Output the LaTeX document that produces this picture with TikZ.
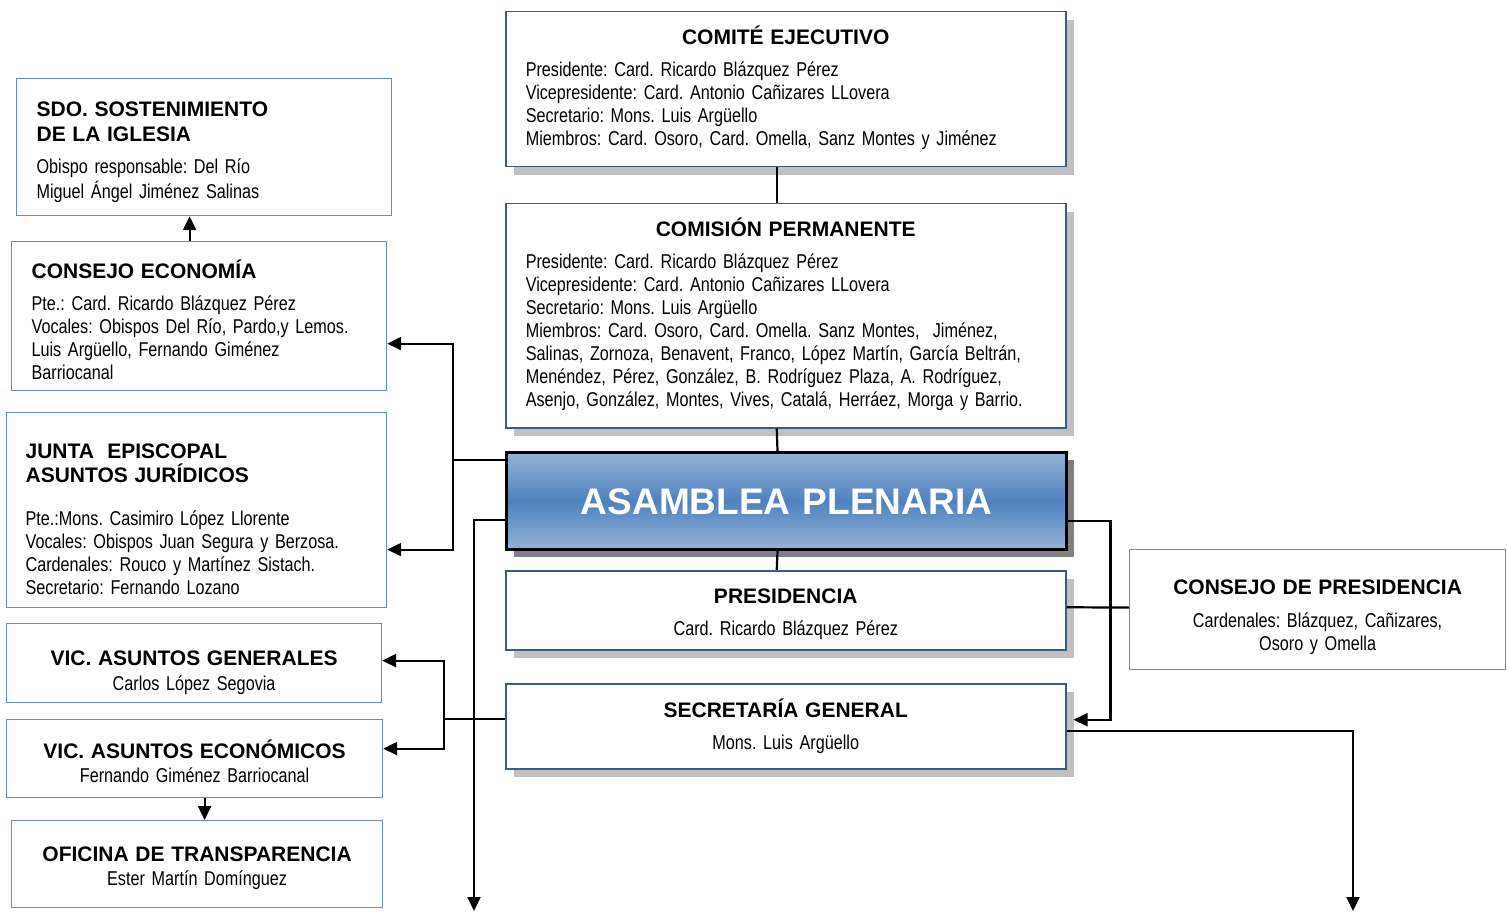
\documentclass[tikz,border=0pt]{standalone}
\usepackage{fontspec}
\setmainfont{Liberation Sans}
\newfontfamily\narrowfont[FakeStretch=0.81,WordSpace=0.7]{Liberation Sans}
\usetikzlibrary{arrows.meta,shadows}
\definecolor{boxblue}{RGB}{56,93,138}
\definecolor{sideblue}{RGB}{100,140,200}
\definecolor{shadowgrey}{RGB}{192,192,192}
\definecolor{darkshadow}{RGB}{128,128,128}
\definecolor{plenarylight}{RGB}{149,179,215}
\definecolor{plenarymid}{RGB}{79,129,189}
\newcommand\bodyfont{\narrowfont\fontsize{20}{23}\selectfont\frenchspacing}
\newcommand\headfont{\normalfont\bfseries\fontsize{21}{25}\selectfont}
\newcommand\boxhead[1]{\makebox[\linewidth]{\headfont #1}}

\begin{document}
\begin{tikzpicture}[x=1pt,y=-1pt,>={Triangle[length=14pt,width=13pt]},
    every node/.style={anchor=north west,inner xsep=20pt,inner ysep=0pt,font=\bodyfont},
    main box/.style={draw=boxblue,line width=1.5pt,fill=white,
      drop shadow={shadow xshift=8pt,shadow yshift=-8pt,fill=shadowgrey,opacity=1}},
    side box/.style={draw=sideblue,line width=1.2pt,fill=white},
    plenary box/.style={draw=black,line width=3pt,top color=plenarylight,
      bottom color=plenarylight,middle color=plenarymid,text=white,align=center,
      font=\normalfont\bfseries\fontsize{37}{40}\selectfont,
      drop shadow={shadow xshift=7pt,shadow yshift=-7pt,fill=darkshadow,opacity=1}},
    link/.style={draw,line width=2.2pt}]
  \useasboundingbox (0,0) rectangle (1507,912);

  \node[main box,align=left,text width=520pt,text height=32.5pt,text depth=122.5pt] (comite) at (505,11)
    {\boxhead{COMITÉ EJECUTIVO}\\[9pt]
     Presidente: Card. Ricardo Blázquez Pérez\\
     Vicepresidente: Card. Antonio Cañizares LLovera\\
     Secretario: Mons. Luis Argüello\\
     Miembros: Card. Osoro, Card. Omella, Sanz Montes y Jiménez};
  \node[main box,align=left,text width=520pt,text height=32.5pt,text depth=191.5pt] (comision) at (505,203)
    {\boxhead{COMISIÓN PERMANENTE}\\[9pt]
     Presidente: Card. Ricardo Blázquez Pérez\\
     Vicepresidente: Card. Antonio Cañizares LLovera\\
     Secretario: Mons. Luis Argüello\\
     Miembros: Card. Osoro, Card. Omella. Sanz Montes,~ Jiménez,\\
     Salinas, Zornoza, Benavent, Franco, López Martín, García Beltrán,\\
     Menéndez, Pérez, González, B. Rodríguez Plaza, A. Rodríguez,\\
     Asenjo, González, Montes, Vives, Catalá, Herráez, Morga y Barrio.};
  \node[plenary box,text width=520pt,text height=62pt,text depth=35pt] (plenaria) at (505,451)
    {ASAMBLEA PLENARIA};
  \node[main box,align=center,text width=520pt,text height=32.5pt,text depth=46.5pt] (presidencia) at (505,570)
    {{\headfont PRESIDENCIA}\\[9pt] Card. Ricardo Blázquez Pérez};
  \node[main box,align=center,text width=520pt,text height=33.5pt,text depth=51.5pt] (secretaria) at (505,683)
    {{\headfont SECRETARÍA GENERAL}\\[9pt] Mons. Luis Argüello};
  \node[side box,align=center,text width=336pt,text height=44.5pt,text depth=75.5pt] (cpres) at (1129,549)
    {{\headfont CONSEJO DE PRESIDENCIA}\\[10pt] Cardenales: Blázquez, Cañizares,\\ Osoro y Omella};

  \node[side box,align=left,text width=335pt,text height=37.5pt,text depth=99.5pt] (sdo) at (16,78)
    {{\headfont SDO. SOSTENIMIENTO\\[2pt] DE LA IGLESIA}\\[9pt]
     Obispo responsable: Del Río\\[2pt]
     Miguel Ángel Jiménez Salinas};
  \node[side box,align=left,text width=335pt,text height=36.5pt,text depth=112.5pt] (economia) at (11,241)
    {{\headfont CONSEJO ECONOMÍA}\\[9pt]
     Pte.: Card. Ricardo Blázquez Pérez\\
     Vocales: Obispos Del Río, Pardo,y Lemos.\\
     Luis Argüello, Fernando Giménez\\
     Barriocanal};
  \node[side box,align=left,text width=342pt,text height=45.5pt,text depth=149.5pt,inner xsep=19pt] (junta) at (6,412)
    {{\headfont JUNTA~ EPISCOPAL\\[1pt] ASUNTOS JURÍDICOS}\\[20pt]
     Pte.:Mons. Casimiro López Llorente\\
     Vocales: Obispos Juan Segura y Berzosa.\\
     Cardenales: Rouco y Martínez Sistach.\\
     Secretario: Fernando Lozano};
  \node[side box,align=center,text width=335pt,text height=41.5pt,text depth=37.5pt] (vicgen) at (6,623)
    {{\headfont VIC. ASUNTOS GENERALES}\\[2pt] Carlos López Segovia};
  \node[side box,align=center,text width=336pt,text height=38.5pt,text depth=39.5pt] (viceco) at (6,719)
    {{\headfont VIC. ASUNTOS ECONÓMICOS}\\[1pt] Fernando Giménez Barriocanal};
  \node[side box,align=center,text width=331pt,text height=40.5pt,text depth=46.5pt] (oficina) at (11,820)
    {{\headfont OFICINA DE TRANSPARENCIA}\\[1pt] Ester Martín Domínguez};

  \coordinate (outleft) at (474,911);
  \coordinate (outright) at (1353,911);

  \draw[link] ([xshift=-9pt]comite.south) -- ([xshift=-9pt]comision.north);
  \draw[link] ([xshift=-9pt]comision.south) -- ([xshift=-9pt]plenaria.north);
  \draw[link] ([xshift=-9pt]plenaria.south) -- ([xshift=-9pt]presidencia.north);
  \draw[link,->] ([yshift=-9pt]plenaria.north west) -| ([xshift=66pt,yshift=-27.5pt]economia.east)
    -- ([yshift=-27.5pt]economia.east);
  \draw[link,->] ([yshift=-9pt]plenaria.north west) -| ([xshift=66pt,yshift=-39.5pt]junta.east)
    -- ([yshift=-39.5pt]junta.east);
  \draw[link,->] ([yshift=-69pt]plenaria.north west) -| (outleft);
  \draw[link,->] ([yshift=-70pt]plenaria.north east) -| ([xshift=44pt,yshift=6.5pt]secretaria.east)
    -- ([xshift=7pt,yshift=6.5pt]secretaria.east);
  \draw[link] ([yshift=3pt]presidencia.east) -- ([yshift=2pt]cpres.west);
  \draw[link,->] ([yshift=-36pt]secretaria.north west) -| ([xshift=62pt,yshift=2.5pt]vicgen.east)
    -- ([yshift=2.5pt]vicgen.east);
  \draw[link,->] ([yshift=-36pt]secretaria.north west) -| ([xshift=61pt,yshift=10pt]viceco.east)
    -- ([yshift=10pt]viceco.east);
  \draw[link,->] ([yshift=-48pt]secretaria.north east) -| (outright);
  \draw[link,->] ([xshift=-9.5pt]economia.north) -- ([xshift=-9.5pt]economia.north |- sdo.south);
  \draw[link,->] ([xshift=10pt]viceco.south) -- ([xshift=10pt]viceco.south |- oficina.north);
\end{tikzpicture}
\end{document}
